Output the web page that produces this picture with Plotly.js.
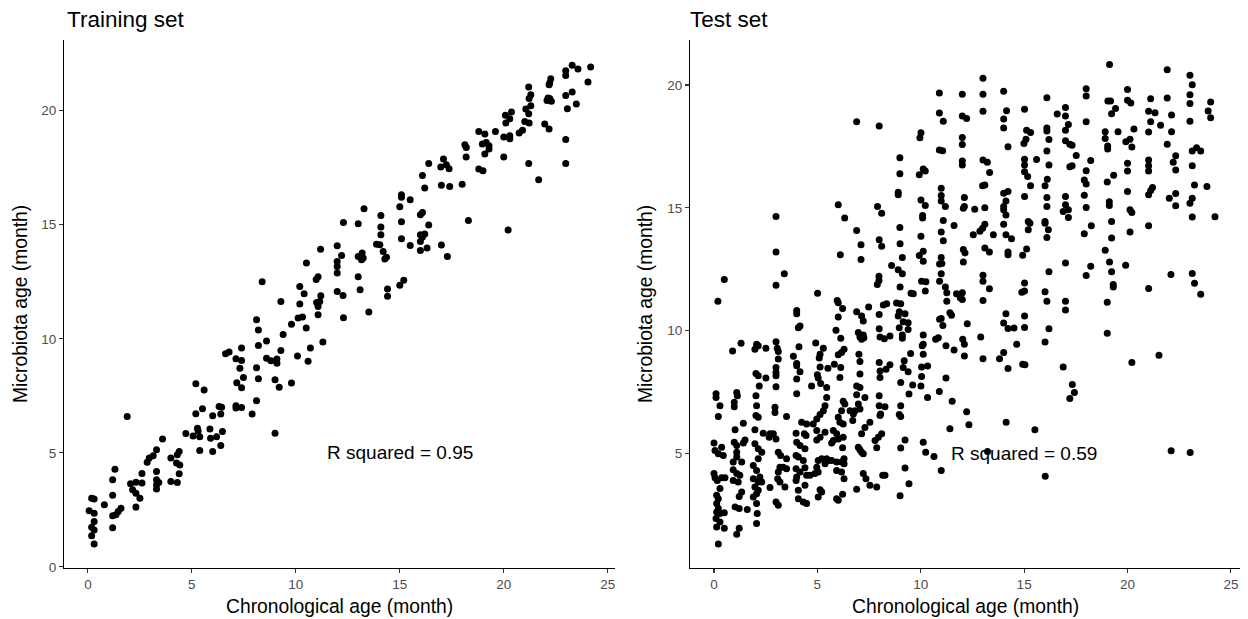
<!DOCTYPE html>
<html>
<head>
<meta charset="utf-8">
<script src="https://cdn.plot.ly/plotly-3.0.1.min.js"></script>
<style>html,body{margin:0;padding:0;background:#fff;}#chart{width:1248px;height:619px;}</style>
</head>
<body>
<div id="chart"></div>
<script>
// Training set: [chronological age, microbiota age]
const trainPoints = [
[11.19,13.93],[10.51,13.32],[8.38,12.5],[11.07,12.72],[10.98,12.6],[10.19,12.29],[10.4,11.97],[9.28,11.64],[10.19,11.52],[11.2,11.89],
[11.0,11.59],[11.15,11.64],[11.07,11.42],[11.07,11.05],[8.11,10.83],[9.79,10.64],[10.11,10.91],[10.32,10.95],[8.2,10.38],[10.5,10.47],
[9.39,10.19],[8.59,9.9],[11.3,9.86],[8.2,9.71],[7.39,9.6],[9.28,9.49],[10.7,9.6],[6.62,9.34],[6.79,9.42],[7.12,9.12],
[7.39,9.05],[8.59,9.15],[8.8,9.04],[9.09,9.11],[9.09,8.93],[10.08,9.24],[10.59,9.02],[7.31,8.71],[8.11,8.73],[8.2,8.25],
[7.48,8.3],[7.16,8.07],[7.39,7.85],[9.0,8.2],[9.2,7.88],[9.79,8.06],[5.19,8.03],[5.59,7.75],[8.11,7.28],[7.9,6.7],
[7.12,7.06],[7.12,6.96],[7.39,6.99],[6.31,7.03],[6.43,7.0],[6.39,6.7],[5.51,6.93],[5.19,6.71],[6.0,6.62],[1.89,6.59],
[4.71,5.85],[5.27,6.08],[5.3,5.96],[5.38,5.71],[5.06,5.74],[5.87,6.04],[6.19,5.71],[5.9,5.64],[6.47,5.94],[6.39,5.32],
[5.38,5.1],[6.0,5.06],[9.0,5.86],[3.59,5.61],[3.3,5.13],[3.14,4.87],[2.95,4.77],[2.85,4.59],[4.39,5.06],[4.3,4.91],
[3.99,4.77],[4.26,4.55],[4.42,4.47],[4.39,4.08],[3.3,4.18],[3.3,3.82],[3.3,3.6],[3.3,3.41],[3.41,3.7],[3.99,3.74],
[4.3,3.7],[2.6,4.09],[2.6,3.68],[2.31,3.71],[2.05,3.64],[2.15,3.38],[2.31,3.23],[2.5,3.01],[2.31,2.62],[1.3,4.28],
[1.19,3.82],[1.19,3.14],[0.79,2.72],[1.59,2.57],[1.46,2.43],[1.35,2.28],[1.19,2.24],[1.19,1.71],[0.18,3.01],[0.3,2.98],
[0.06,2.46],[0.3,2.35],[0.3,1.99],[0.18,1.74],[0.3,1.62],[0.18,1.36],[0.3,1.0],[12.29,10.92],[13.51,11.17],[23.29,21.99],
[23.57,21.83],[24.18,21.92],[22.98,21.75],[22.98,21.54],[24.05,21.26],[22.26,21.4],[22.21,21.21],[22.18,21.14],[21.2,21.04],[23.29,20.82],
[22.98,20.67],[22.21,20.53],[22.08,20.45],[22.29,20.41],[22.13,20.56],[21.3,20.7],[21.22,20.53],[23.49,20.29],[23.06,20.09],[21.3,20.22],
[21.06,20.07],[21.2,19.87],[20.08,19.8],[20.37,19.94],[20.1,19.46],[20.29,19.65],[21.01,19.53],[21.22,19.46],[21.97,19.42],[22.18,19.2],
[20.9,19.14],[20.74,19.02],[18.8,19.09],[19.09,18.98],[19.6,19.09],[20.0,18.85],[20.29,18.9],[20.29,18.77],[22.98,18.74],[18.13,18.51],
[18.2,18.39],[18.97,18.54],[19.16,18.61],[19.29,18.46],[19.09,18.1],[19.29,18.32],[18.19,17.97],[20.0,17.97],[16.39,17.69],[17.1,17.88],
[16.97,17.53],[17.24,17.63],[17.37,17.46],[21.2,17.69],[22.98,17.69],[18.8,17.44],[19.0,17.37],[16.09,17.16],[21.68,16.97],[16.2,16.61],
[17.0,16.73],[17.4,16.68],[18.0,16.78],[15.08,16.32],[15.08,16.21],[15.5,16.1],[15.0,15.79],[13.28,15.7],[14.09,15.41],[16.09,15.54],
[15.99,15.44],[12.29,15.1],[13.0,15.04],[14.09,14.9],[14.09,14.56],[15.08,15.13],[16.39,14.99],[18.3,15.19],[20.21,14.77],[11.99,14.08],
[12.2,13.65],[11.99,13.39],[11.99,13.17],[11.99,12.88],[13.0,13.61],[13.19,13.76],[13.24,13.54],[13.16,13.46],[13.88,14.15],[14.04,14.12],
[14.2,13.83],[14.36,13.58],[14.28,13.5],[15.08,14.39],[15.5,14.09],[15.99,14.56],[16.2,14.59],[15.99,14.27],[16.09,14.46],[15.99,13.87],
[16.31,13.98],[17.0,14.11],[17.29,13.61],[13.0,12.72],[13.09,12.15],[15.0,12.35],[15.19,12.57],[11.99,12.07],[12.27,11.9],[14.41,12.18],
[14.41,11.86]
];

// Test set: [chronological age, microbiota age]
const testPoints = [
[10.9,19.67],[12.01,19.62],[10.9,18.86],[11.09,18.52],[12.01,18.74],[12.22,18.63],[6.9,18.5],[7.99,18.33],[10.01,18.05],[9.96,17.85],
[12.01,17.86],[12.01,17.58],[10.9,17.35],[11.06,17.32],[8.99,17.04],[12.01,16.9],[12.01,16.74],[10.12,16.58],[10.22,16.5],[9.93,16.34],
[8.99,16.39],[10.99,15.79],[8.91,15.63],[8.91,15.53],[10.99,15.5],[10.99,15.28],[11.19,15.05],[12.11,15.42],[12.06,14.98],[12.11,15.05],
[10.01,15.32],[10.22,15.09],[6.01,15.12],[7.91,15.05],[8.11,14.78],[3.0,14.65],[6.32,14.58],[10.09,14.69],[10.09,14.58],[11.09,14.48],
[11.61,14.28],[6.9,14.08],[8.99,14.2],[10.01,13.84],[10.99,14.01],[11.09,13.66],[7.99,13.7],
[19.13,20.83],[21.92,20.62],[23.02,20.39],[23.13,20.01],[13.01,20.27],[13.01,19.62],[14.01,19.74],[18.0,19.85],[18.0,19.55],[20.0,19.82],
[16.1,19.48],[19.05,19.35],[19.18,19.35],[20.0,19.38],[20.16,19.27],[21.12,19.44],[21.92,19.47],[23.02,19.6],[23.02,19.24],[24.02,19.31],
[23.9,18.94],[24.02,18.66],[13.01,18.93],[14.15,18.95],[14.01,18.61],[14.01,18.25],[15.02,19.01],[16.6,18.82],[17.0,19.08],[17.0,18.74],
[18.0,18.5],[19.23,18.83],[19.42,19.04],[21.02,18.93],[21.33,18.87],[21.12,18.5],[22.13,18.78],[23.02,18.52],[21.6,18.36],[15.12,18.16],
[15.31,18.06],[16.1,18.25],[16.1,18.13],[17.14,18.39],[17.0,18.16],[18.92,18.09],[18.92,17.82],[19.54,18.09],[20.31,18.21],[21.02,18.08],
[22.13,18.09],[15.09,17.79],[14.99,17.62],[16.2,17.78],[17.0,17.73],[17.21,17.59],[17.32,17.55],[14.22,17.48],[16.1,17.31],[19.04,17.52],
[19.04,17.39],[19.92,17.69],[20.12,17.79],[20.21,17.47],[21.92,17.59],[23.13,17.31],[23.34,17.44],[23.54,17.31],[13.01,16.94],[13.22,16.85],
[13.33,16.44],[15.02,16.98],[15.02,16.74],[15.02,16.47],[15.17,16.27],[15.31,15.9],[15.6,16.97],[16.2,16.74],[17.52,17.13],[18.22,16.92],
[17.21,16.67],[17.32,16.71],[18.0,16.51],[20.0,16.81],[20.0,16.5],[21.02,16.94],[21.02,16.71],[21.02,16.5],[22.33,17.12],[22.21,16.85],
[22.33,16.54],[23.13,16.71],[19.33,16.32],[19.02,16.05],[13.1,15.93],[12.99,15.9],[16.12,16.16],[16.01,15.9],[17.91,16.13],[18.0,15.97],
[23.24,15.93],[23.84,15.87],[20.0,15.66],[21.21,15.83],[21.12,15.7],[21.02,15.53],[22.02,15.39],[22.33,15.58],[22.33,15.08],[23.13,15.39],
[23.02,15.18],[12.61,14.94],[13.1,15.0],[14.01,15.59],[14.22,15.66],[14.12,15.28],[14.01,15.05],[14.01,14.92],[14.12,14.71],[15.02,15.46],
[16.1,15.42],[16.1,15.05],[17.0,15.46],[17.0,15.12],[16.89,14.85],[17.14,14.92],[17.14,14.6],[17.91,15.51],[18.0,15.01],[19.12,15.25],
[19.12,15.09],[20.12,14.92],[20.21,14.81],[19.23,14.44],[18.25,14.27],[21.02,14.27],[23.13,14.62],[24.23,14.63],[15.2,14.44],[15.28,14.37],
[15.2,14.11],[16.01,14.44],[16.01,14.37],[16.17,14.11],[16.1,13.79],[14.01,14.33],[14.12,13.9],[14.39,13.74],[13.1,14.33],[12.99,14.17],
[12.86,14.04],[12.54,13.9],[13.51,13.9],[17.91,13.94],[19.23,13.77],[20.12,14.01],
[7.11,13.5],[7.11,12.89],[8.11,13.43],[9.0,13.54],[12.06,13.3],[12.14,13.16],[12.06,12.79],[3.0,13.2],[6.11,13.09],[9.11,12.98],
[10.12,13.23],[9.93,13.06],[10.12,12.82],[10.99,12.98],[11.02,12.73],[10.91,12.71],[3.4,12.31],[0.5,12.08],[3.0,11.85],[8.59,12.65],
[8.91,12.48],[9.11,12.31],[7.98,12.21],[7.98,12.04],[7.9,11.88],[9.0,11.77],[10.99,12.31],[10.04,12.01],[10.25,11.99],[10.22,11.61],
[10.91,12.01],[11.19,11.77],[11.26,11.54],[11.26,11.2],[9.53,11.52],[9.64,11.5],[11.73,11.5],[12.01,11.54],[12.01,11.27],[11.91,11.34],
[5.01,11.52],[0.19,11.2],[5.96,11.23],[6.01,11.13],[6.22,10.9],[4.0,10.82],[4.0,10.69],[6.9,10.77],[7.14,10.59],[7.22,10.39],
[7.48,10.96],[7.99,10.66],[8.19,11.04],[8.35,11.09],[8.83,11.12],[9.03,11.09],[8.96,10.77],[9.24,10.69],[8.91,10.59],[9.15,10.36],
[9.39,10.32],[8.96,10.12],[9.39,10.05],[9.11,9.82],[9.11,9.69],[6.01,10.55],[4.16,10.19],[4.08,10.12],[5.9,10.01],[6.13,9.69],
[6.98,9.92],[7.06,9.74],[7.14,9.65],[7.25,9.71],[7.22,9.82],[7.99,10.08],[8.03,9.74],[8.24,9.67],[8.51,9.78],[10.12,9.82],
[10.12,9.44],[10.07,9.38],[10.99,10.49],[11.07,10.21],[10.91,10.46],[11.41,10.73],[11.49,10.63],[12.25,10.28],[10.85,9.71],[10.72,9.65],
[11.22,9.38],[11.61,9.21],[12.03,9.65],[12.11,9.44],[12.11,8.97],[1.31,9.49],[0.9,9.17],[2.06,9.44],[1.98,9.24],[2.14,9.38],
[2.51,9.28],[3.0,9.55],[3.06,9.28],[3.11,9.15],[3.11,8.84],[4.11,9.34],[4.92,9.5],[5.29,9.28],[5.13,9.04],[5.09,8.88],
[6.29,9.24],[6.17,9.11],[6.01,9.02],[7.01,9.04],[7.06,8.74],[3.84,8.96],[4.0,8.66],[4.0,8.57],[5.82,8.63],[6.13,8.5],
[5.51,8.47],[5.13,8.52],[7.99,8.7],[8.51,8.61],[8.32,8.43],[8.03,8.36],[8.03,8.09],[9.2,8.77],[9.15,8.5],[9.39,8.33],
[9.51,9.07],[10.12,9.04],[10.04,8.52],[10.33,8.56],[10.04,8.13],[2.03,8.25],[2.14,8.16],[2.51,8.07],[3.0,8.5],[3.0,8.29],
[3.0,8.16],[4.0,8.03],[4.16,8.33],[5.0,8.2],[5.04,8.07],[6.09,8.09],[7.06,8.23],[6.9,7.75],[7.06,7.68],[9.03,7.89],
[9.61,7.79],[10.01,7.75],[11.22,8.07],[10.9,7.52],[2.19,7.75],[3.0,7.71],[4.72,7.75],[5.16,7.85],[5.45,7.68],[4.0,7.43],
[0.1,7.43],[0.1,7.28],[1.1,7.48],[1.13,7.35],[2.03,7.35],[5.45,7.28],[6.9,7.39],[7.3,7.28],[7.99,7.35],[9.43,7.42],
[10.33,7.28],
[13.1,13.36],[13.32,13.2],[14.22,13.2],[14.22,13.09],[14.93,13.07],[15.12,13.32],[18.92,13.27],[19.13,12.79],[19.23,12.4],[17.0,12.75],
[18.22,12.62],[19.91,12.66],[16.2,12.4],[18.0,12.24],[22.1,12.28],[23.13,12.32],[23.24,11.93],[23.54,11.48],[13.01,12.25],[13.01,12.01],
[13.32,11.7],[15.02,11.94],[15.02,11.61],[14.89,11.56],[16.01,11.58],[19.31,11.88],[19.31,11.77],[21.02,11.71],[13.01,11.23],[16.1,11.2],
[17.0,11.2],[17.0,10.84],[19.02,11.15],[14.12,10.69],[14.01,10.31],[15.02,10.59],[15.02,10.13],[14.22,10.09],[14.51,10.11],[16.2,10.08],
[19.02,9.89],[12.9,9.74],[14.64,9.44],[16.01,9.54],[13.01,8.85],[14.01,9.11],[13.81,8.85],[14.22,8.46],[14.93,8.63],[15.04,8.61],
[16.89,8.52],[20.21,8.7],[21.52,9.0],[17.33,7.81],[17.43,7.48],[17.21,7.24],
[12.22,6.7],[12.33,6.17],[14.13,6.27],[15.52,5.96],[13.23,5.08],[16.02,4.07],[22.11,5.11],[23.03,5.04],
[0.29,6.94],[0.21,6.5],[0,5.42],[0.05,5.12],[0.21,4.99],[0.37,5.25],[0.45,4.92],[0,4.18],[0.05,4.01],[0.16,3.9],
[0.37,4.01],[0.53,4.01],[0.29,3.57],[0.13,3.3],[0.21,3.16],[0.13,2.96],[0.21,2.76],[0.13,2.62],[0.29,2.55],[0.5,2.59],
[0.1,2.35],[0.29,2.21],[0.13,2.01],[0.5,1.95],[0.21,1.31],[0.98,7.08],[0.98,6.9],[1.42,6.23],[1.02,5.96],[0.98,5.46],
[1.1,5.32],[1.5,5.55],[1.42,5.42],[1.1,5.05],[1.1,4.85],[0.93,4.65],[1.34,4.65],[0.93,4.34],[1.1,4.18],[0.93,3.9],
[1.17,3.84],[1.25,4.11],[1.34,3.43],[1.22,3.25],[1.02,2.82],[1.22,2.76],[1.61,2.72],[1.22,1.95],[1.1,1.71],[2.06,6.94],
[2.03,6.54],[2.14,6.47],[1.98,5.96],[2.38,5.82],[2.71,5.8],[1.98,5.39],[2.14,5.19],[2.31,5.05],[2.14,4.78],[1.9,4.51],
[2.06,4.31],[2.22,4.04],[1.9,3.97],[2.14,3.84],[2.31,3.84],[1.98,3.63],[2.14,3.5],[1.9,3.23],[2.06,3.36],[2.06,2.96],
[2.09,2.55],[2.06,2.15],[2.95,6.88],[2.95,6.67],[3.51,6.5],[2.67,5.66],[2.87,5.8],[3.0,5.59],[3.11,5.05],[3.22,4.92],
[3.51,4.78],[3.19,4.44],[3.35,4.44],[3.51,4.38],[3.11,4.24],[3.08,3.97],[3.19,3.84],[3.43,3.63],[2.71,3.61],[3.0,3.02],
[3.11,2.89],[4.24,6.27],[4.48,6.2],[3.97,5.82],[4.45,5.73],[4.37,5.8],[4.0,5.46],[4.16,5.32],[4.4,5.19],[3.97,4.92],
[4.08,4.85],[4.32,4.71],[3.97,4.38],[4.16,4.24],[4.0,4.04],[3.97,3.9],[4.4,4.42],[4.48,4.11],[4.4,3.7],[4.08,3.5],
[4.08,3.16],[4.32,3.02],[4.48,2.96],[5.37,6.94],[5.29,6.74],[5.13,6.58],[4.97,6.4],[4.8,6.2],[4.97,5.93],[4.97,5.55],
[5.37,5.86],[5.13,5.66],[5.04,4.71],[5.21,4.78],[5.53,4.71],[5.37,4.58],[4.97,4.44],[5.04,4.24],[4.88,4.18],[4.64,4.11],
[5.13,3.52],[5.21,3.43],[5.04,3.23],[6.17,6.74],[6.01,6.47],[6.09,6.27],[6.25,6.2],[6.33,7.01],[6.25,7.12],[5.77,5.93],
[5.93,5.8],[5.77,5.53],[5.69,5.42],[6.01,5.59],[6.25,5.66],[6.22,5.23],[5.45,4.78],[5.69,4.71],[5.93,4.65],[6.17,4.65],
[6.29,4.78],[6.29,4.58],[5.93,4.31],[6.17,4.24],[6.29,3.97],[5.93,3.16],[6.22,3.34],[6.01,3.09],[6.98,7.01],[7.06,6.81],
[6.82,6.74],[6.58,6.74],[6.74,6.6],[6.71,6.34],[7.54,6.27],[7.3,6.06],[7.14,5.8],[6.98,5.25],[7.14,5.05],[7.06,5.15],
[7.22,4.99],[7.22,4.18],[7.35,3.97],[7.54,3.7],[6.9,3.54],[7.87,3.63],[7.99,6.94],[8.27,6.9],[8.06,6.6],[8.03,6.54],
[8.11,5.8],[7.95,5.66],[7.79,5.53],[7.87,5.23],[8.16,4.11],[8.27,4.11],[9.03,6.94],[8.96,6.58],[9.03,6.5],[9.24,5.55],
[9.03,5.22],[9.24,4.41],[9.43,3.77],[9.0,3.28],[10.12,5.46],[10.24,5.05],[10.64,4.88],[10.99,4.31],[11.41,6.0],[11.52,7.12]
];

const panelTitles = ["Training set", "Test set"];
const rSquaredLabels = ["R squared = 0.95", "R squared = 0.59"];
const xTickValues = [0, 5, 10, 15, 20, 25];
const xAxisTitle = "Chronological age (month)";
const yAxisTitle = "Microbiota age (month)";

const trainX = trainPoints.map(p => p[0]);
const trainY = trainPoints.map(p => p[1]);
const testX = testPoints.map(p => p[0]);
const testY = testPoints.map(p => p[1]);

const FONT = "Liberation Sans, Arial, sans-serif";
const W = 1248, H = 619;
const px = v => v / W;
const py = v => 1 - v / H;

const marker = {size: 7, color: "#000000", line: {width: 0}};
const traces = [
  {type: "scatter", mode: "markers", x: trainX, y: trainY, xaxis: "x", yaxis: "y", marker: marker, hoverinfo: "x+y", showlegend: false},
  {type: "scatter", mode: "markers", x: testX, y: testY, xaxis: "x2", yaxis: "y2", marker: marker, hoverinfo: "x+y", showlegend: false}
];

function axisBase() {
  return {
    showgrid: false, zeroline: false, showline: true, linecolor: "#000000", linewidth: 1.1,
    ticks: "outside", ticklen: 4, tickwidth: 1.1, tickcolor: "#333333",
    tickfont: {family: FONT, size: 13.5, color: "#4d4d4d"}, automargin: false
  };
}

const layout = {
  width: W, height: H,
  margin: {l: 0, r: 0, t: 0, b: 0},
  paper_bgcolor: "#ffffff", plot_bgcolor: "#ffffff",
  showlegend: false,
  font: {family: FONT},
  xaxis: Object.assign(axisBase(), {domain: [px(64), px(615)], range: [-1.15, 25.35], tickvals: xTickValues, anchor: "y"}),
  yaxis: Object.assign(axisBase(), {domain: [py(568), py(40)], range: [-0.05, 23.1], tickvals: [0, 5, 10, 15, 20], anchor: "x"}),
  xaxis2: Object.assign(axisBase(), {domain: [px(690), px(1240)], range: [-1.16, 25.44], tickvals: xTickValues, anchor: "y2"}),
  yaxis2: Object.assign(axisBase(), {domain: [py(568), py(40)], range: [0.336, 21.83], tickvals: [5, 10, 15, 20], anchor: "x2"}),
  annotations: [
    {text: panelTitles[0], xref: "paper", yref: "paper", x: px(65), y: py(20), xanchor: "left", yanchor: "middle", showarrow: false, font: {family: FONT, size: 22.5, color: "#000"}},
    {text: panelTitles[1], xref: "paper", yref: "paper", x: px(688), y: py(20), xanchor: "left", yanchor: "middle", showarrow: false, font: {family: FONT, size: 22.5, color: "#000"}},
    {text: rSquaredLabels[0], xref: "x", yref: "y", x: 15, y: 5, xanchor: "center", yanchor: "middle", showarrow: false, font: {family: FONT, size: 19, color: "#000"}},
    {text: rSquaredLabels[1], xref: "x2", yref: "y2", x: 15, y: 5, xanchor: "center", yanchor: "middle", showarrow: false, font: {family: FONT, size: 19, color: "#000"}},
    {text: xAxisTitle, xref: "paper", yref: "paper", x: px(339.5), y: py(606), xanchor: "center", yanchor: "middle", showarrow: false, font: {family: FONT, size: 19.3, color: "#000"}},
    {text: xAxisTitle, xref: "paper", yref: "paper", x: px(965), y: py(606), xanchor: "center", yanchor: "middle", showarrow: false, font: {family: FONT, size: 19.3, color: "#000"}},
    {text: yAxisTitle, xref: "paper", yref: "paper", x: px(20), y: py(304), xanchor: "center", yanchor: "middle", textangle: -90, showarrow: false, font: {family: FONT, size: 19.3, color: "#000"}},
    {text: yAxisTitle, xref: "paper", yref: "paper", x: px(645), y: py(304), xanchor: "center", yanchor: "middle", textangle: -90, showarrow: false, font: {family: FONT, size: 19.3, color: "#000"}}
  ]
};

Plotly.newPlot("chart", traces, layout, {displayModeBar: false, staticPlot: true});
</script>
</body>
</html>
